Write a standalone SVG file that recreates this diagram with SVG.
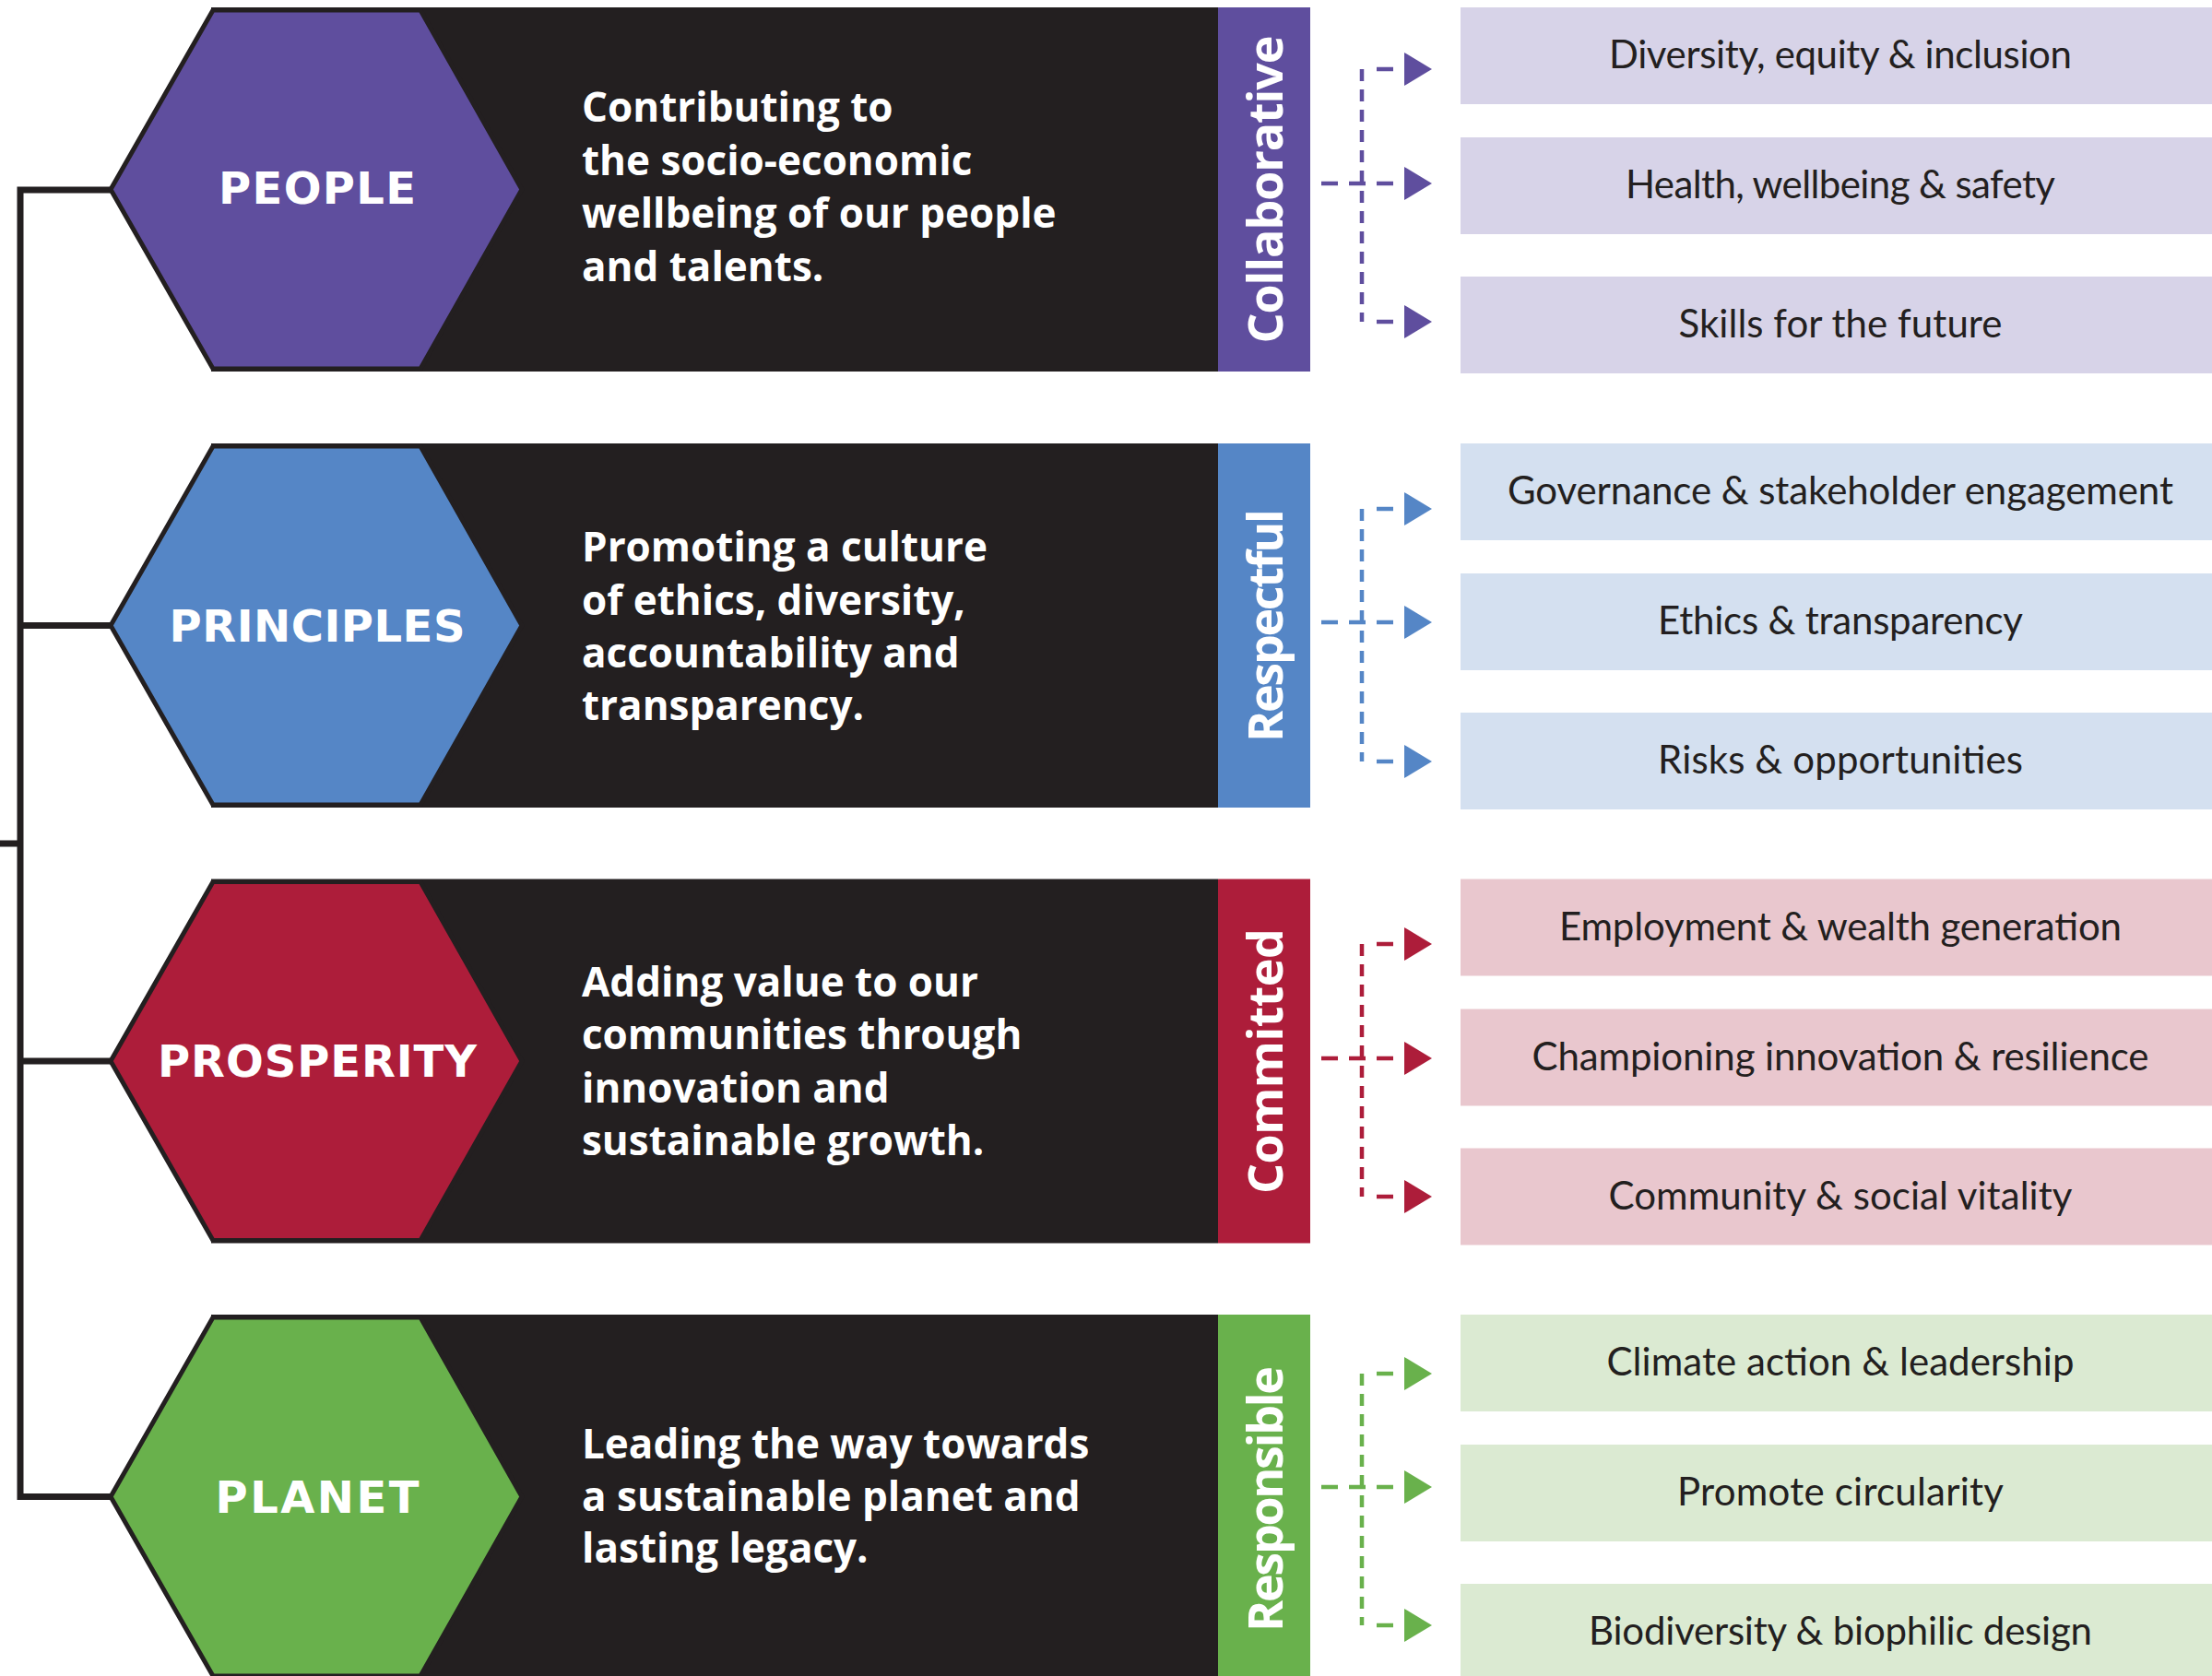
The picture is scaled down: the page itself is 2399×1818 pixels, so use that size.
<svg xmlns="http://www.w3.org/2000/svg" width="2399" height="1818" viewBox="0 0 2399 1818">
<style>
.band{fill:#231f20}
.hex{stroke:#231f20;stroke-width:5;stroke-linejoin:miter}
.hlabel{font-family:"DejaVu Sans","Open Sans",sans-serif;font-weight:700;font-size:48px;fill:#ffffff;text-anchor:middle}
.desc{font-family:"Open Sans","Liberation Sans",sans-serif;font-weight:700;font-size:44px;fill:#ffffff}
.vlabel{font-family:"Open Sans","Liberation Sans",sans-serif;font-weight:700;font-size:52px;fill:#ffffff;text-anchor:middle}
.btext{font-family:"Lato","Liberation Sans",sans-serif;font-size:42px;fill:#231f20;text-anchor:middle}
.bracket{stroke:#231f20;stroke-width:7;fill:none}
.vdash{stroke-width:4.5;fill:none;stroke-dasharray:13 9}
.hdash{stroke-width:4.5;fill:none;stroke-dasharray:18 12}
.hseg{stroke-width:4.5;fill:none}
.purple{fill:#5f4e9e}.blue{fill:#5586c6}.red{fill:#ad1d3a}.green{fill:#69b14c}
.lpurple{fill:#d7d3e8}.lblue{fill:#d4e0f0}.lred{fill:#e9c7ce}.lgreen{fill:#dbead2}
.spurple{stroke:#5f4e9e}.sblue{stroke:#5586c6}.sred{stroke:#ad1d3a}.sgreen{stroke:#69b14c}
</style>
<rect width="2399" height="1818" fill="#ffffff"/>

<g id="connectors">
  <path class="bracket" d="M22 202.5 V1627 M18.5 206 H121 M18.5 678.5 H121 M18.5 1151 H121 M18.5 1623.5 H121 M0 915 H22"/>
  <g id="conn-people">
    <line class="vdash spurple" x1="1477" y1="75" x2="1477" y2="349"/>
    <line class="hseg spurple" x1="1493" y1="75" x2="1511" y2="75"/>
    <line class="hdash spurple" x1="1433" y1="199" x2="1511" y2="199"/>
    <line class="hseg spurple" x1="1493" y1="349" x2="1511" y2="349"/>
    <polygon class="purple" points="1523,57 1523,93 1553,75"/>
    <polygon class="purple" points="1523,181 1523,217 1553,199"/>
    <polygon class="purple" points="1523,331 1523,367 1553,349"/>
  </g>
  <g id="conn-principles">
    <line class="vdash sblue" x1="1477" y1="552" x2="1477" y2="826"/>
    <line class="hseg sblue" x1="1493" y1="552" x2="1511" y2="552"/>
    <line class="hdash sblue" x1="1433" y1="675" x2="1511" y2="675"/>
    <line class="hseg sblue" x1="1493" y1="826" x2="1511" y2="826"/>
    <polygon class="blue" points="1523,534 1523,570 1553,552"/>
    <polygon class="blue" points="1523,657 1523,693 1553,675"/>
    <polygon class="blue" points="1523,808 1523,844 1553,826"/>
  </g>
  <g id="conn-prosperity">
    <line class="vdash sred" x1="1477" y1="1024" x2="1477" y2="1298"/>
    <line class="hseg sred" x1="1493" y1="1024" x2="1511" y2="1024"/>
    <line class="hdash sred" x1="1433" y1="1148" x2="1511" y2="1148"/>
    <line class="hseg sred" x1="1493" y1="1298" x2="1511" y2="1298"/>
    <polygon class="red" points="1523,1006 1523,1042 1553,1024"/>
    <polygon class="red" points="1523,1130 1523,1166 1553,1148"/>
    <polygon class="red" points="1523,1280 1523,1316 1553,1298"/>
  </g>
  <g id="conn-planet">
    <line class="vdash sgreen" x1="1477" y1="1490" x2="1477" y2="1763"/>
    <line class="hseg sgreen" x1="1493" y1="1490" x2="1511" y2="1490"/>
    <line class="hdash sgreen" x1="1433" y1="1613" x2="1511" y2="1613"/>
    <line class="hseg sgreen" x1="1493" y1="1763" x2="1511" y2="1763"/>
    <polygon class="green" points="1523,1472 1523,1508 1553,1490"/>
    <polygon class="green" points="1523,1595 1523,1631 1553,1613"/>
    <polygon class="green" points="1523,1745 1523,1781 1553,1763"/>
  </g>
</g>

<g id="people">
  <rect class="band" x="229" y="8" width="1092" height="395"/>
  <polygon class="hex purple" points="120,205.5 231,11 456,11 566,205.5 456,400 231,400"/>
  <text class="hlabel" x="344" y="221" textLength="214">PEOPLE</text>
  <text class="desc" x="631" y="132">Contributing to</text>
  <text class="desc" x="631" y="189.5">the socio-economic</text>
  <text class="desc" x="631" y="247">wellbeing of our people</text>
  <text class="desc" x="631" y="304.5">and talents.</text>
  <rect class="purple" x="1321" y="8" width="100" height="395"/>
  <text class="vlabel" transform="translate(1391,205.5) rotate(-90)" textLength="334">Collaborative</text>
</g>

<g id="principles">
  <rect class="band" x="229" y="481" width="1092" height="395"/>
  <polygon class="hex blue" points="120,678.5 231,484 456,484 566,678.5 456,873 231,873"/>
  <text class="hlabel" x="344" y="696" textLength="321">PRINCIPLES</text>
  <text class="desc" x="631" y="609">Promoting a culture</text>
  <text class="desc" x="631" y="666.5">of ethics, diversity,</text>
  <text class="desc" x="631" y="723.5">accountability and</text>
  <text class="desc" x="631" y="781">transparency.</text>
  <rect class="blue" x="1321" y="481" width="100" height="395"/>
  <text class="vlabel" transform="translate(1391,678.5) rotate(-90)" textLength="253">Respectful</text>
</g>

<g id="prosperity">
  <rect class="band" x="229" y="953.5" width="1092" height="395"/>
  <polygon class="hex red" points="120,1151 231,956.5 456,956.5 566,1151 456,1345.5 231,1345.5"/>
  <text class="hlabel" x="344" y="1168" textLength="346">PROSPERITY</text>
  <text class="desc" x="631" y="1081">Adding value to our</text>
  <text class="desc" x="631" y="1138">communities through</text>
  <text class="desc" x="631" y="1195.5">innovation and</text>
  <text class="desc" x="631" y="1253">sustainable growth.</text>
  <rect class="red" x="1321" y="953.5" width="100" height="395"/>
  <text class="vlabel" transform="translate(1391,1151) rotate(-90)" textLength="288">Committed</text>
</g>

<g id="planet">
  <rect class="band" x="229" y="1426" width="1092" height="395"/>
  <polygon class="hex green" points="120,1623.5 231,1429 456,1429 566,1623.5 456,1818 231,1818"/>
  <text class="hlabel" x="344" y="1641" textLength="221">PLANET</text>
  <text class="desc" x="631" y="1582">Leading the way towards</text>
  <text class="desc" x="631" y="1638.5">a sustainable planet and</text>
  <text class="desc" x="631" y="1695">lasting legacy.</text>
  <rect class="green" x="1321" y="1426" width="100" height="395"/>
  <text class="vlabel" transform="translate(1391,1626) rotate(-90)" textLength="288">Responsible</text>
</g>

<g id="box-diversity"><rect class="lpurple" x="1584" y="8" width="815" height="105"/><text class="btext" x="1996" y="74" textLength="502">Diversity, equity &amp; inclusion</text></g>
<g id="box-health"><rect class="lpurple" x="1584" y="149" width="815" height="105"/><text class="btext" x="1996" y="215" textLength="466">Health, wellbeing &amp; safety</text></g>
<g id="box-skills"><rect class="lpurple" x="1584" y="300" width="815" height="105"/><text class="btext" x="1996" y="366" textLength="351">Skills for the future</text></g>

<g id="box-governance"><rect class="lblue" x="1584" y="481" width="815" height="105"/><text class="btext" x="1996" y="547" textLength="722">Governance &amp; stakeholder engagement</text></g>
<g id="box-ethics"><rect class="lblue" x="1584" y="622" width="815" height="105"/><text class="btext" x="1996" y="688" textLength="396">Ethics &amp; transparency</text></g>
<g id="box-risks"><rect class="lblue" x="1584" y="773" width="815" height="105"/><text class="btext" x="1996" y="839" textLength="396">Risks &amp; opportunities</text></g>

<g id="box-employment"><rect class="lred" x="1584" y="953.5" width="815" height="105"/><text class="btext" x="1996" y="1019.5" textLength="610">Employment &amp; wealth generation</text></g>
<g id="box-innovation"><rect class="lred" x="1584" y="1094.5" width="815" height="105"/><text class="btext" x="1996" y="1160.5" textLength="669">Championing innovation &amp; resilience</text></g>
<g id="box-community"><rect class="lred" x="1584" y="1245.5" width="815" height="105"/><text class="btext" x="1996" y="1311.5" textLength="503">Community &amp; social vitality</text></g>

<g id="box-climate"><rect class="lgreen" x="1584" y="1426" width="815" height="105"/><text class="btext" x="1996" y="1492" textLength="507">Climate action &amp; leadership</text></g>
<g id="box-circularity"><rect class="lgreen" x="1584" y="1567" width="815" height="105"/><text class="btext" x="1996" y="1633" textLength="354">Promote circularity</text></g>
<g id="box-biodiversity"><rect class="lgreen" x="1584" y="1718" width="815" height="105"/><text class="btext" x="1996" y="1784" textLength="546">Biodiversity &amp; biophilic design</text></g>
</svg>
